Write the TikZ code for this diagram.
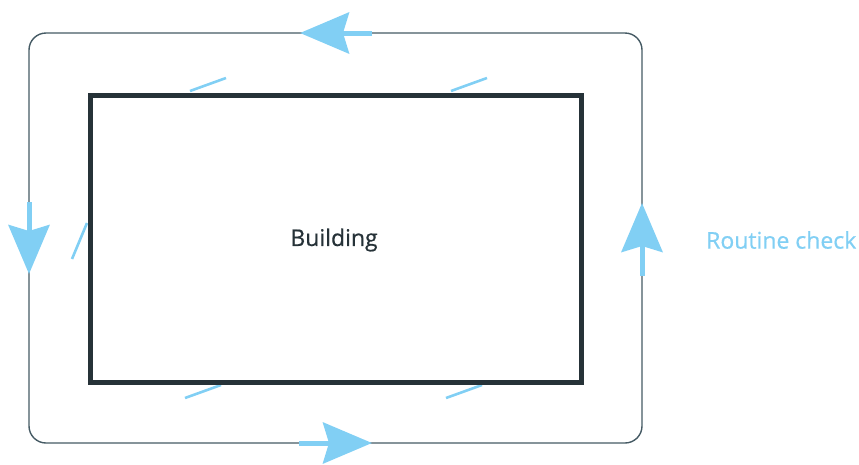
\documentclass[tikz,border=0pt]{standalone}
\usepackage{fontspec}
\setmainfont{Open Sans}
\usetikzlibrary{arrows.meta}
\definecolor{lblue}{HTML}{81CFF4}
\definecolor{dark}{HTML}{263238}
\definecolor{loopgray}{HTML}{455A64}
\tikzset{
  loopline/.style={draw=loopgray, line width=1.4pt, rounded corners=17pt},
  flowarrow/.style={draw=lblue, line width=5pt, -{Stealth[length=49pt, width=41pt, inset=6pt]}},
  tick/.style={draw=lblue, line width=2.6pt},
  building/.style={draw=dark, line width=5pt, fill=white, minimum width=491pt, minimum height=287pt, inner sep=0pt},
  bldtext/.style={text=dark, font=\fontsize{23}{26}\selectfont, inner sep=0pt},
  lbl/.style={text=lblue, font=\fontsize{23}{26}\selectfont, inner sep=0pt}
}
\begin{document}
\begin{tikzpicture}[x=1pt, y=-1pt]
\useasboundingbox (0,0) rectangle (859,464);
% outer loop
\draw[loopline] (29,33) rectangle (642,443);
% ticks
\draw[tick] (226,78) -- (190,91);
\draw[tick] (487,78) -- (451,91);
\draw[tick] (87,223) -- (72,259);
\draw[tick] (221,385) -- (185,398);
\draw[tick] (482,385) -- (446,398);
% building
\node[building] (bld) at (335.5,238.5) {};
\node[bldtext] (bldlabel) at (334,240) {\addfontfeature{FakeBold=0.6}Building};
% arrows
\coordinate (ta0) at (372,33); \coordinate (ta1) at (300,33);
\coordinate (la0) at (29,202); \coordinate (la1) at (29,274);
\coordinate (ba0) at (299,443); \coordinate (ba1) at (372,443);
\coordinate (ra0) at (642,276); \coordinate (ra1) at (642,203);
\draw[flowarrow] (ta0) -- (ta1);
\draw[flowarrow] (la0) -- (la1);
\draw[flowarrow] (ba0) -- (ba1);
\draw[flowarrow] (ra0) -- (ra1);
\node[lbl, anchor=west] (rc) at (706,240) {\addfontfeature{FakeBold=0.6}Routine check};
\end{tikzpicture}
\end{document}
